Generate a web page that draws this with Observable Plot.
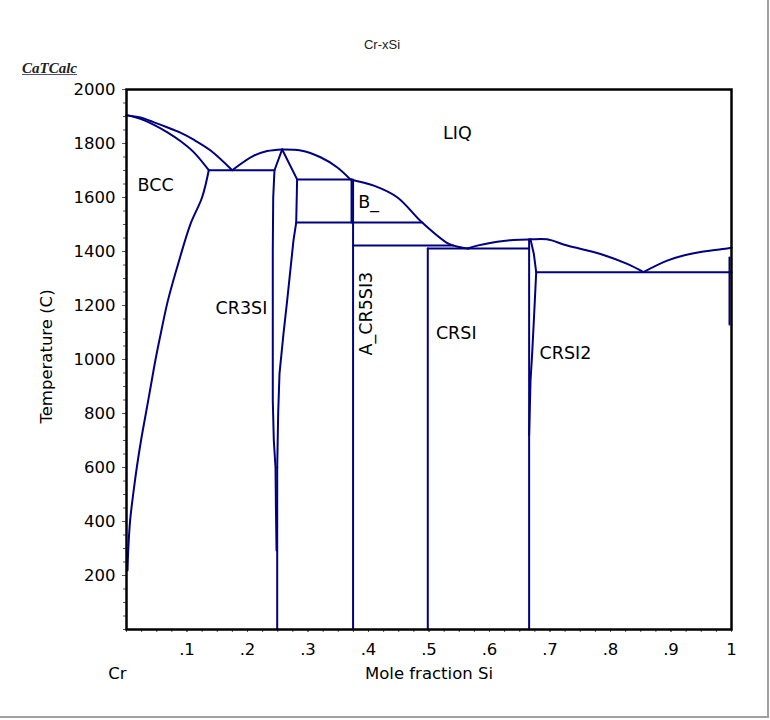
<!DOCTYPE html>
<html><head><meta charset="utf-8">
<script src="https://cdn.jsdelivr.net/npm/d3@7"></script>
<script src="https://cdn.jsdelivr.net/npm/@observablehq/plot@0.6"></script>
<style>
body{margin:0;background:#fff;}
#wrap{position:relative;width:767px;height:716px;border-right:2px solid #a0a0a0;border-bottom:2px solid #a0a0a0;overflow:hidden;}
#wrap svg{position:absolute;left:0;top:0;max-width:none !important;width:770px;height:720px;}
#title{position:absolute;left:0;width:764px;top:37px;text-align:center;font-family:"Liberation Sans",sans-serif;font-size:13px;color:#222;z-index:2;}
#brand{position:absolute;left:22px;top:60px;font-family:"Liberation Serif",serif;font-style:italic;font-weight:bold;font-size:15px;color:#222;text-decoration:underline;text-decoration-color:#50508a;z-index:2;}
</style></head>
<body><div id="wrap"><div id="title">Cr-xSi</div><div id="brand">CaTCalc</div></div>
<script>
// ---- data: [mole fraction Si, temperature C] ----
const bccLiquidus = [[0,1905],[0.023,1896],[0.0446,1879],[0.067,1860],[0.089,1840],[0.111,1814],[0.139,1774],[0.1747,1701]];
const bccSolidus  = [[0,1905],[0.023,1891],[0.0446,1870],[0.067,1842],[0.089,1809],[0.111,1768],[0.136,1701]];
const bccSolvus   = [[0.136,1701],[0.125,1601],[0.106,1503],[0.087,1367],[0.0685,1219],[0.057,1100],[0.048,1000],[0.040,900],[0.032,800],[0.024,700],[0.017,600],[0.011,500],[0.006,404],[0.003,300],[0.0017,219]];
const cr3siLiqLeft  = [[0.1747,1701],[0.2105,1755],[0.2325,1772],[0.2573,1778]];
const cr3siLiqRight = [[0.2573,1778],[0.288,1774],[0.3207,1749],[0.348,1712],[0.370,1667]];
const bLiquidus     = [[0.370,1667],[0.4088,1644],[0.4474,1601],[0.4888,1507],[0.5328,1428],[0.552,1416],[0.565,1411]];
const crsi2Liquidus = [[0.565,1411],[0.5736,1418],[0.6127,1436],[0.6397,1443],[0.6678,1445],[0.695,1445],[0.7284,1422],[0.7835,1391],[0.8276,1354],[0.8545,1324]];
const siLiquidus    = [[0.8545,1324],[0.8937,1366],[0.9207,1385],[0.9488,1398],[0.995,1412],[1,1414]];
const cr3siLeft  = [[0.2573,1778],[0.2446,1701],[0.2425,1600],[0.2418,1404],[0.2418,848],[0.2435,700],[0.2463,600],[0.2470,450],[0.2480,293]];
const cr3siRight = [[0.2573,1778],[0.282,1667],[0.2805,1507],[0.276,1441],[0.2656,1219],[0.2595,1096],[0.2529,948],[0.2507,800],[0.2491,600]];
const crsi2Right = [[0.6678,1445],[0.6733,1391],[0.6772,1323],[0.676,1268],[0.6733,1144],[0.6705,1021],[0.6678,922],[0.6655,720]];
const tieLines = [
  [[0.136,1701],[0.2446,1701]],
  [[0.282,1667],[0.372,1667]],
  [[0.2805,1507],[0.4888,1507]],
  [[0.3745,1422],[0.54,1422]],
  [[0.498,1411],[0.6655,1411]],
  [[0.6772,1323],[1,1323]]
];
const phaseLines = [
  [[0.2491,0],[0.2491,600]],
  [[0.372,1507],[0.372,1667]],
  [[0.3745,0],[0.3745,1667]],
  [[0.498,0],[0.498,1411]],
  [[0.6655,0],[0.6655,1445]],
  [[0.9967,1130],[0.9967,1378]]
];
const phaseNames = ["LIQ","BCC","CR3SI","B_","CRSI","CRSI2"];
const phaseX     = [0.547,0.048,0.190,0.400,0.545,0.7256];
const phaseT     = [1837,1644,1189,1581,1096,1022];
const xTicks = [0.1,0.2,0.3,0.4,0.5,0.6,0.7,0.8,0.9,1];
const xTickLabels = [".1",".2",".3",".4",".5",".6",".7",".8",".9","1"];
const yTicks = [200,400,600,800,1000,1200,1400,1600,1800,2000];

const smoothCurves = [bccLiquidus,bccSolidus,bccSolvus,cr3siLiqLeft,cr3siLiqRight,bLiquidus,crsi2Liquidus,siLiquidus];
const straightCurves = [cr3siLeft,cr3siRight,crsi2Right,...tieLines,...phaseLines];
const toRows = arr => arr.flatMap((c,k)=>c.map(p=>({x:p[0],t:p[1],k})));
const labels = phaseNames.map((n,i)=>({n,x:phaseX[i],t:phaseT[i]}));
const xMinor = d3.range(0,1.0001,0.025);
const yMinor = d3.range(0,2000.1,50);
const navy = "#000080";

const chart = Plot.plot({
  width:770, height:720,
  marginLeft:126, marginRight:39, marginTop:89, marginBottom:91,
  style:{fontFamily:"DejaVu Sans",fontSize:"16px",color:"#000",background:"transparent"},
  x:{domain:[0,1]},
  y:{domain:[0,2000]},
  marks:[
    Plot.axisX(xMinor,{tickSize:3,tickFormat:()=>"",label:null,stroke:"#555"}),
    Plot.axisY(yMinor,{tickSize:3,tickFormat:()=>"",label:null,stroke:"#555"}),
    Plot.axisX(xTicks,{tickSize:3,tickPadding:11,tickFormat:(d,i)=>xTickLabels[i],label:null,stroke:"#555",fontSize:16.5}),
    Plot.axisY(yTicks,{tickSize:4,tickPadding:7,tickFormat:d=>String(d),label:null,stroke:"#555",fontSize:16.5}),
    Plot.line(toRows(smoothCurves),{x:"x",y:"t",z:"k",stroke:navy,strokeWidth:2,curve:"catmull-rom"}),
    Plot.line(toRows(straightCurves),{x:"x",y:"t",z:"k",stroke:navy,strokeWidth:2,curve:"linear"}),
    Plot.frame({stroke:"#000",strokeWidth:2.5}),
    Plot.text(labels,{x:"x",y:"t",text:"n",fontSize:17.5,fill:"#000"}),
    Plot.text(["A_CR5SI3"],{x:0.397,y:1170,rotate:-90,fontSize:17.5,fill:"#000"}),
    Plot.text(["Mole fraction Si"],{frameAnchor:"bottom",lineAnchor:"middle",dy:44,fontSize:16.5}),
    Plot.text(["Cr"],{frameAnchor:"bottom-left",lineAnchor:"middle",textAnchor:"middle",dx:-9,dy:44,fontSize:16.5}),
    Plot.text(["Temperature (C)"],{frameAnchor:"left",textAnchor:"middle",lineAnchor:"middle",dx:-80,dy:-3,rotate:-90,fontSize:16.5})
  ]
});
document.getElementById("wrap").appendChild(chart);
</script>
</body></html>
